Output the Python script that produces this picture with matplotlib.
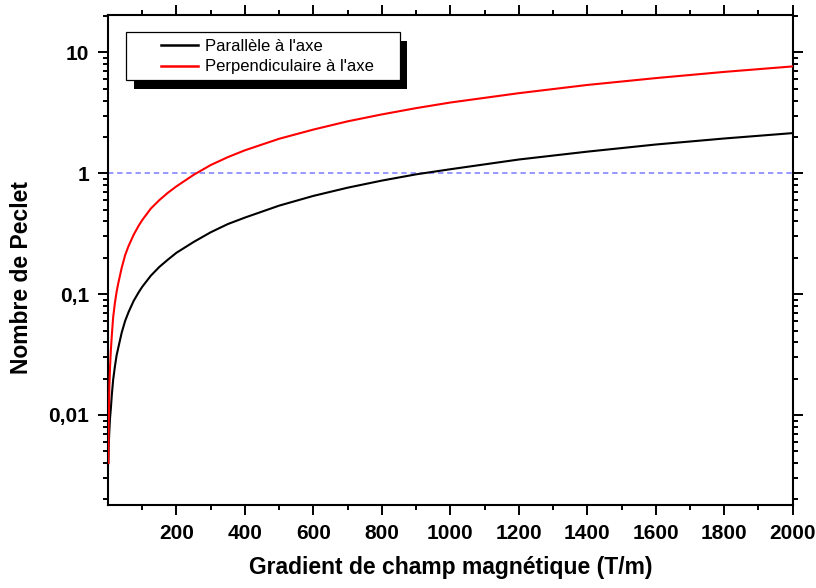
import numpy as np
import matplotlib.pyplot as plt
from matplotlib.ticker import FixedLocator, NullFormatter, LogLocator
from matplotlib.patches import Rectangle

plt.rcParams['font.family'] = ['Liberation Sans', 'DejaVu Sans']

# Donnees
gradient = [1, 2, 4, 6, 8, 11, 15, 20, 25, 30, 40, 50, 60, 75, 90, 100, 125, 150, 175, 200,
            250, 300, 350, 400, 500, 600, 700, 800, 900, 1000, 1200, 1400, 1600, 1800, 2000]
pe_parallele = [0.004, 0.0055, 0.0075, 0.0095, 0.011, 0.0145, 0.0195, 0.025, 0.031, 0.036, 0.048,
                0.06, 0.071, 0.088, 0.104, 0.115, 0.142, 0.168, 0.193, 0.22,
                0.27, 0.325, 0.38, 0.43, 0.54, 0.65, 0.76, 0.87, 0.98, 1.08, 1.3, 1.51, 1.73, 1.94, 2.15]
pe_perpendiculaire = [0.004, 0.008, 0.017, 0.025, 0.033, 0.045, 0.064, 0.084, 0.104, 0.123, 0.165,
                      0.21, 0.25, 0.31, 0.37, 0.41, 0.51, 0.6, 0.69, 0.78,
                      0.97, 1.17, 1.36, 1.55, 1.93, 2.3, 2.69, 3.07, 3.46, 3.85, 4.6, 5.38, 6.13, 6.9, 7.66]
x_ticks = [200, 400, 600, 800, 1000, 1200, 1400, 1600, 1800, 2000]
y_ticks = [0.01, 0.1, 1, 10]
y_ticklabels = ["0,01", "0,1", "1", "10"]

W, H = 816, 588
fig = plt.figure(figsize=(W / 100, H / 100), dpi=100)
ax = fig.add_axes([108 / W, 83 / H, (792.7 - 108) / W, 490 / H])

ax.plot(gradient, pe_parallele, color="black", lw=1.5, label="Parallèle à l'axe", zorder=3)
ax.plot(gradient, pe_perpendiculaire, color="red", lw=1.5, label="Perpendiculaire à l'axe", zorder=3)
ax.axhline(1, color="#7a7aff", lw=1.1, dashes=(3.5, 2.5), zorder=2)

ax.set_yscale("log")
ax.set_xlim(0, 2000)
ax.set_ylim(0.0018, 20.4)

ax.xaxis.set_major_locator(FixedLocator(x_ticks))
ax.xaxis.set_minor_locator(FixedLocator(np.arange(100, 2000, 200)))
ax.set_yticks(y_ticks)
ax.set_yticklabels(y_ticklabels)
ax.yaxis.set_minor_locator(LogLocator(base=10, subs=np.arange(2, 10)))
ax.yaxis.set_minor_formatter(NullFormatter())

for s in ax.spines.values():
    s.set_linewidth(1.5)
ax.tick_params(which="both", direction="out", top=True, right=True, width=1.4)
ax.tick_params(which="major", length=7.5, labelsize=15, pad=6)
ax.tick_params(which="minor", length=3.8)
for lab in ax.get_xticklabels() + ax.get_yticklabels():
    lab.set_fontweight("bold")

ax.set_xlabel("Gradient de champ magnétique (T/m)", fontsize=16.5, fontweight="bold")
ax.set_ylabel("Nombre de Peclet", fontsize=16.5, fontweight="bold")
ax.xaxis.set_label_coords(0.5, -0.104)
ax.yaxis.set_label_coords(-0.11, 0.464)

# Legende avec ombre portee
def fig_box(x0, y0, x1, y1):
    return (x0 / W, 1 - y1 / H), (x1 - x0) / W, (y1 - y0) / H

xy, w, h = fig_box(134, 41, 407, 89)
fig.patches.append(Rectangle(xy, w, h, transform=fig.transFigure, facecolor="black", edgecolor="none", zorder=5))
xy, w, h = fig_box(126, 32, 400, 80)
fig.patches.append(Rectangle(xy, w, h, transform=fig.transFigure, facecolor="white", edgecolor="black",
                             lw=0.9, zorder=6))
leg = fig.legend(loc="upper left", bbox_to_anchor=(161 / W, 1 - 39 / H), frameon=False, fontsize=12,
                 handlelength=2.2, handletextpad=0.45, borderpad=0, borderaxespad=0, labelspacing=0.32)
leg.set_zorder(7)
for line in leg.get_lines():
    line.set_linewidth(1.8)

fig.savefig("out.png", dpi=100)
